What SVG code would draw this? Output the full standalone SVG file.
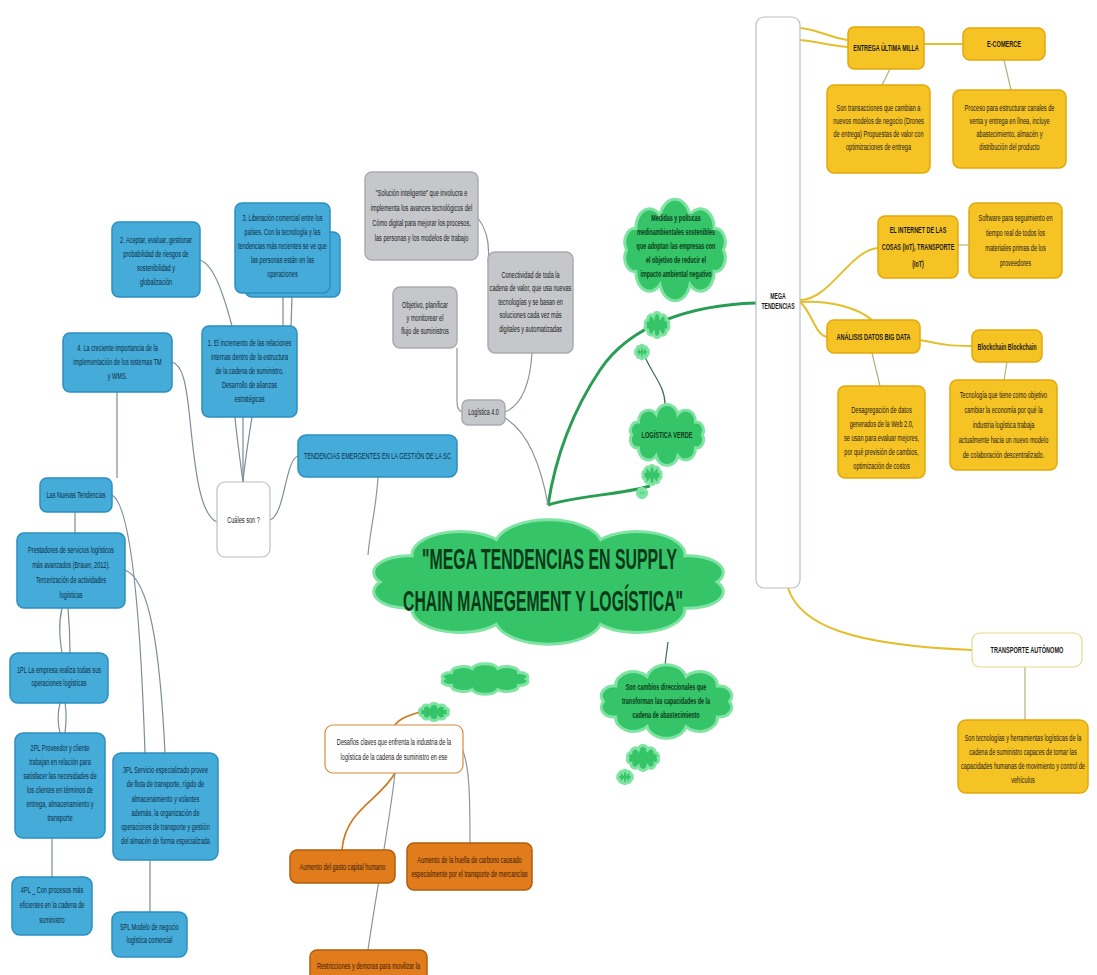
<svg xmlns="http://www.w3.org/2000/svg" xmlns:xlink="http://www.w3.org/1999/xlink" width="1097" height="975" viewBox="0 0 1097 975">
<style>
.y{fill:#f6c324;stroke:#e2a80c;stroke-width:1.5}
.b{fill:#45abd8;stroke:#2d8fc0;stroke-width:1.5}
.g{fill:#c5c7ca;stroke:#a9acb0;stroke-width:1.5}
.o{fill:#e07c1c;stroke:#b35c0a;stroke-width:1.5}
.w{fill:#ffffff;stroke:#b7c0c6;stroke-width:1.2}
.wo{fill:#ffffff;stroke:#d98a3a;stroke-width:1.2}
.wy{fill:#ffffff;stroke:#e6d98a;stroke-width:1.2}
.cl{fill:#35c468;stroke:#7fe3a2;stroke-width:3}
.tx{font-family:"Liberation Sans",Arial,sans-serif;font-size:9.3px;text-anchor:middle;fill:#1a1a1a}
.big{font-size:29px;font-weight:bold}
.bd{font-weight:bold}
.tb{fill:#0e2c44}
.to{fill:#3a1a00}
.tg{fill:#0b3a1a}
.cy{fill:none;stroke:#e4bf2c;stroke-width:2}
.cyt{fill:none;stroke:#b8b07a;stroke-width:1.2}
.cg{fill:none;stroke:#8c969c;stroke-width:1.2}
.cb{fill:none;stroke:#7b8d97;stroke-width:1.2}
.cgr{fill:none;stroke:#2a9d55;stroke-width:3}
.cgt{fill:none;stroke:#3c6e4c;stroke-width:1.2}
.co{fill:none;stroke:#d0761e;stroke-width:1.6}
</style>
<defs>
<path id="cloudShape" vector-effect="non-scaling-stroke" d="M6,30 A9,9 0 0 1 14.4,15.9 A12.5,12.5 0 0 1 36.4,7.2 A14,14 0 0 1 63.6,7.2 A12.5,12.5 0 0 1 85.6,15.9 A9,9 0 0 1 94,30 A9,9 0 0 1 85.6,44.1 A12.5,12.5 0 0 1 63.6,52.8 A14,14 0 0 1 36.4,52.8 A12.5,12.5 0 0 1 14.4,44.1 A9,9 0 0 1 6,30 Z"/>
</defs>
<rect x="0" y="0" width="1097" height="975" fill="#ffffff"/>

<g id="connectors">
<path class="cy" d="M800,28 C820,30 830,38 848,40"/>
<path class="cy" d="M800,40 C820,42 830,46 848,47"/>
<path class="cy" d="M924,44 L963,44"/>
<path class="cyt" d="M890,69 L882,85"/>
<path class="cyt" d="M1004,60 L1011,90"/>
<path class="cy" d="M800,300 C830,300 850,250 878,248"/>
<path class="cy" d="M800,302 C830,300 858,308 872,320"/>
<path class="cy" d="M800,302 C812,312 815,335 827,337"/>
<path class="cyt" d="M958,245 L969,245"/>
<path class="cy" d="M920,340 C945,345 950,346 972,346"/>
<path class="cyt" d="M872,353 L880,386"/>
<path class="cyt" d="M1007,362 L1004,380"/>
<path class="cy" d="M788,588 C800,625 850,645 972,650"/>
<path class="cyt" d="M1025,667 L1025,720"/>
<path class="cgr" d="M756,303 C690,305 630,325 600,370 S555,460 548,505"/>
<path class="cgr" d="M548,505 C580,495 620,495 650,486" stroke-width="2.5"/>
<path class="cgt" d="M643,352 C650,372 665,385 665,404"/>
<path class="cgt" d="M668,642 L665,665"/>
<path class="cg" d="M478,218 C487,230 490,245 488,262"/>
<path class="cg" d="M457,348 L457,402 C457,409 460,412 463,412"/>
<path class="cg" d="M532,353 C530,385 522,405 505,412"/>
<path class="cg" d="M505,418 C525,430 540,460 548,505"/>
<path class="cg" d="M378,477 C376,510 370,530 368,555"/>
<path class="cb" d="M270,520 C285,515 285,460 298,456"/>
<path class="cb" d="M217,522 C200,515 195,470 190,420 C186,380 182,365 172,362"/>
<path class="cb" d="M243,482 L243,417"/>
<path class="cb" d="M243,482 C245,460 250,430 252,417"/>
<path class="cb" d="M243,482 C240,460 236,430 235,417"/>
<path class="cb" d="M283,326 L283,297"/>
<path class="cb" d="M291,326 L292,297"/>
<path class="cb" d="M200,260 C215,265 225,300 232,326"/>
<path class="cb" d="M117,392 L117,478"/>
<path class="cb" d="M75,512 L75,533"/>
<path class="cb" d="M112,495 C130,505 140,600 145,753"/>
<path class="cb" d="M125,570 C150,580 160,650 165,753"/>
<path class="cb" d="M62,608 C58,625 60,640 62,653"/>
<path class="cb" d="M68,608 C70,630 70,640 70,653"/>
<path class="cb" d="M60,703 C57,715 58,725 60,733"/>
<path class="cb" d="M65,703 C67,715 66,725 65,733"/>
<path class="cb" d="M52,838 L52,877"/>
<path class="cb" d="M150,860 L150,912"/>
<path class="co" d="M395,725 C400,718 410,715 420,712"/>
<path class="co" d="M395,773 C380,800 345,810 342,850"/>
<path class="cg" d="M395,773 C390,820 375,900 368,950"/>
<path class="cg" d="M460,745 C470,760 470,800 470,843"/>
</g>

<g id="mega-tendencias">
<rect class="w" x="756" y="17" width="44" height="571" rx="8"/>
<text class="tx bd" transform="translate(778,299) scale(0.55,1)"><tspan x="0">MEGA</tspan><tspan x="0" dy="10">TENDENCIAS</tspan></text>
</g>
<g id="entrega">
<rect class="y" x="848" y="27" width="76" height="42" rx="6"/>
<text class="tx bd" transform="translate(886,51) scale(0.58,1)">ENTREGA ÚLTIMA MILLA</text>
</g>
<g id="ecommerce">
<rect class="y" x="963" y="28" width="82" height="32" rx="7"/>
<text class="tx bd" transform="translate(1004,47) scale(0.6,1)">E-COMERCE</text>
</g>
<g id="desc-entrega">
<rect class="y" x="827" y="85" width="103" height="88" rx="7"/>
<text class="tx" transform="translate(878.5,111) scale(0.6,1)"><tspan x="0">Son transacciones que cambian a</tspan><tspan x="0" dy="13">nuevos modelos de negocio (Drones</tspan><tspan x="0" dy="13">de entrega) Propuestas de valor con</tspan><tspan x="0" dy="13">optimizaciones de entrega</tspan></text>
</g>
<g id="desc-ecommerce">
<rect class="y" x="953" y="90" width="113" height="78" rx="7"/>
<text class="tx" transform="translate(1009.5,111) scale(0.6,1)"><tspan x="0">Proceso para estructurar canales de</tspan><tspan x="0" dy="13">venta y entrega en línea, incluye</tspan><tspan x="0" dy="13">abastecimiento, almacén y</tspan><tspan x="0" dy="13">distribución del producto</tspan></text>
</g>
<g id="iot">
<rect class="y" x="878" y="216" width="80" height="62" rx="7"/>
<text class="tx bd" transform="translate(918,233) scale(0.58,1)"><tspan x="0">EL INTERNET DE LAS</tspan><tspan x="0" dy="17">COSAS (IoT), TRANSPORTE</tspan><tspan x="0" dy="17">(IoT)</tspan></text>
</g>
<g id="software">
<rect class="y" x="969" y="203" width="93" height="75" rx="7"/>
<text class="tx" transform="translate(1015.5,221) scale(0.6,1)"><tspan x="0">Software para seguimiento en</tspan><tspan x="0" dy="15">tiempo real de todos los</tspan><tspan x="0" dy="15">materiales primas de los</tspan><tspan x="0" dy="15">proveedores</tspan></text>
</g>
<g id="analisis">
<rect class="y" x="827" y="320" width="93" height="33" rx="7"/>
<text class="tx bd" transform="translate(873.5,340) scale(0.6,1)">ANÁLISIS DATOS BIG DATA</text>
</g>
<g id="blockchain">
<rect class="y" x="972" y="330" width="70" height="32" rx="7"/>
<text class="tx bd" transform="translate(1007,350) scale(0.58,1)">Blockchain Blockchain</text>
</g>
<g id="desagregacion">
<rect class="y" x="838" y="386" width="87" height="92" rx="7"/>
<text class="tx" transform="translate(881.5,413) scale(0.6,1)"><tspan x="0">Desagregación de datos</tspan><tspan x="0" dy="14">generados de la Web 2.0,</tspan><tspan x="0" dy="14">se usan para evaluar mejores,</tspan><tspan x="0" dy="14">por qué previsión de cambios,</tspan><tspan x="0" dy="14">optimización de costos</tspan></text>
</g>
<g id="tecnologia">
<rect class="y" x="950" y="380" width="107" height="90" rx="7"/>
<text class="tx" transform="translate(1003.5,398) scale(0.6,1)"><tspan x="0">Tecnología que tiene como objetivo</tspan><tspan x="0" dy="15">cambiar la economía por qué la</tspan><tspan x="0" dy="15">industria logística trabaja</tspan><tspan x="0" dy="15">actualmente hacia un nuevo modelo</tspan><tspan x="0" dy="15">de colaboración descentralizado.</tspan></text>
</g>
<g id="transporte">
<rect class="wy" x="972" y="633" width="110" height="34" rx="8"/>
<text class="tx bd" transform="translate(1027,653) scale(0.6,1)">TRANSPORTE AUTÓNOMO</text>
</g>
<g id="desc-transporte">
<rect class="y" x="958" y="720" width="130" height="73" rx="8"/>
<text class="tx" transform="translate(1023,741) scale(0.6,1)"><tspan x="0">Son tecnologías y herramientas logísticas de la</tspan><tspan x="0" dy="14">cadena de suministro capaces de tomar las</tspan><tspan x="0" dy="14">capacidades humanas de movimiento y control de</tspan><tspan x="0" dy="14">vehículos</tspan></text>
</g>

<g id="solucion">
<rect class="g" x="365" y="172" width="113" height="88" rx="7"/>
<text class="tx" transform="translate(421.5,196) scale(0.6,1)"><tspan x="0">"Solución inteligente" que involucra e</tspan><tspan x="0" dy="15">implementa los avances tecnológicos del</tspan><tspan x="0" dy="15">Cómo digital para mejorar los procesos,</tspan><tspan x="0" dy="15">las personas y los modelos de trabajo</tspan></text>
</g>
<g id="objetivo">
<rect class="g" x="393" y="287" width="64" height="61" rx="7"/>
<text class="tx" transform="translate(425,308) scale(0.6,1)"><tspan x="0">Objetivo, planificar</tspan><tspan x="0" dy="13">y monitorear el</tspan><tspan x="0" dy="13">flujo de suministros</tspan></text>
</g>
<g id="conectividad">
<rect class="g" x="488" y="252" width="85" height="101" rx="7"/>
<text class="tx" transform="translate(530.5,278) scale(0.6,1)"><tspan x="0">Conectividad de toda la</tspan><tspan x="0" dy="13.5">cadena de valor, que usa nuevas</tspan><tspan x="0" dy="13.5">tecnologías y se basan en</tspan><tspan x="0" dy="13.5">soluciones cada vez más</tspan><tspan x="0" dy="13.5">digitales y automatizadas</tspan></text>
</g>
<g id="logistica40">
<rect class="g" x="462" y="400" width="43" height="25" rx="6"/>
<text class="tx" transform="translate(483.5,415) scale(0.58,1)">Logística 4.0</text>
</g>

<g id="medidas">
<use xlink:href="#cloudShape" class="cl" transform="translate(620,204.6) scale(1.1,1.514)"/>
<text class="tx bd tg" transform="translate(676,221) scale(0.58,1)"><tspan x="0">Medidas y políticas</tspan><tspan x="0" dy="14">medioambientales sostenibles</tspan><tspan x="0" dy="14">que adoptan las empresas con</tspan><tspan x="0" dy="14">el objetivo de reducir el</tspan><tspan x="0" dy="14">impacto ambiental negativo</tspan></text>
</g>
<g id="burbujas-medidas">
<use xlink:href="#cloudShape" class="cl" transform="translate(644,313.9) scale(0.26,0.371)"/>
<use xlink:href="#cloudShape" class="cl" transform="translate(635,346) scale(0.14,0.2)"/>
</g>
<g id="logistica-verde">
<use xlink:href="#cloudShape" class="cl" transform="translate(627,407.6) scale(0.8,0.914)"/>
<text class="tx bd tg" transform="translate(667,438) scale(0.6,1)">LOGÍSTICA VERDE</text>
</g>
<g id="burbujas-verde">
<use xlink:href="#cloudShape" class="cl" transform="translate(642,466.4) scale(0.2,0.286)"/>
<use xlink:href="#cloudShape" class="cl" transform="translate(637,488.7) scale(0.1,0.143)"/>
</g>
<g id="titulo">
<use xlink:href="#cloudShape" class="cl" transform="translate(357,526.3) scale(3.83,1.857)"/>
<text class="tx big tg" x="549.5" y="569" textLength="255" lengthAdjust="spacingAndGlyphs">"MEGA TENDENCIAS EN SUPPLY</text>
<text class="tx big tg" x="543" y="611" textLength="280" lengthAdjust="spacingAndGlyphs">CHAIN MANEGEMENT Y LOGÍSTICA"</text>
</g>
<g id="cambios">
<use xlink:href="#cloudShape" class="cl" transform="translate(595,668.5) scale(1.43,1.1)"/>
<text class="tx bd tg" transform="translate(666,690) scale(0.58,1)"><tspan x="0">Son cambios direccionales que</tspan><tspan x="0" dy="14">transforman las capacidades de la</tspan><tspan x="0" dy="14">cadena de abastecimiento</tspan></text>
</g>
<g id="burbujas-cambios">
<use xlink:href="#cloudShape" class="cl" transform="translate(626,746.9) scale(0.34,0.371)"/>
<use xlink:href="#cloudShape" class="cl" transform="translate(617,771) scale(0.16,0.2)"/>
</g>
<g id="burbujas-desafios">
<use xlink:href="#cloudShape" class="cl" transform="translate(438,665.3) scale(0.94,0.457)"/>
<use xlink:href="#cloudShape" class="cl" transform="translate(418,704.3) scale(0.32,0.257)"/>
</g>

<g id="liberacion">
<rect class="b" x="245" y="232" width="95" height="65" rx="7"/>
<rect class="b" x="235" y="203" width="95" height="90" rx="7"/>
<text class="tx tb" transform="translate(282.5,221) scale(0.6,1)"><tspan x="0">3. Liberación comercial entre los</tspan><tspan x="0" dy="14">países. Con la tecnología y las</tspan><tspan x="0" dy="14">tendencias más recientes se ve que</tspan><tspan x="0" dy="14">las personas están en las</tspan><tspan x="0" dy="14">operaciones</tspan></text>
</g>
<g id="aceptar">
<rect class="b" x="112" y="222" width="88" height="75" rx="7"/>
<text class="tx tb" transform="translate(156,243) scale(0.6,1)"><tspan x="0">2. Aceptar, evaluar, gestionar</tspan><tspan x="0" dy="14">probabilidad de riesgos de</tspan><tspan x="0" dy="14">sostenibilidad y</tspan><tspan x="0" dy="14">globalización</tspan></text>
</g>
<g id="incremento">
<rect class="b" x="202" y="326" width="95" height="91" rx="7"/>
<text class="tx tb" transform="translate(249.5,346) scale(0.6,1)"><tspan x="0">1. El incremento de las relaciones</tspan><tspan x="0" dy="14">internas dentro de la estructura</tspan><tspan x="0" dy="14">de la cadena de suministro.</tspan><tspan x="0" dy="14">Desarrollo de alianzas</tspan><tspan x="0" dy="14">estratégicas</tspan></text>
</g>
<g id="creciente">
<rect class="b" x="63" y="333" width="109" height="59" rx="7"/>
<text class="tx tb" transform="translate(117.5,351) scale(0.6,1)"><tspan x="0">4. La creciente importancia de la</tspan><tspan x="0" dy="14">implementación de los sistemas TM</tspan><tspan x="0" dy="14">y WMS.</tspan></text>
</g>
<g id="cuales">
<rect class="w" x="217" y="482" width="53" height="75" rx="8"/>
<text class="tx" transform="translate(243.5,523) scale(0.6,1)">Cuáles son ?</text>
</g>
<g id="emergentes">
<rect class="b" x="298" y="435" width="159" height="42" rx="8"/>
<text class="tx tb" transform="translate(377.5,459) scale(0.6,1)">TENDENCIAS EMERGENTES EN LA GESTIÓN DE LA SC</text>
</g>
<g id="nuevas">
<rect class="b" x="40" y="478" width="72" height="34" rx="7"/>
<text class="tx tb" transform="translate(76,498) scale(0.6,1)">Las Nuevas Tendencias</text>
</g>
<g id="prestadores">
<rect class="b" x="17" y="533" width="108" height="75" rx="7"/>
<text class="tx tb" transform="translate(71,553) scale(0.6,1)"><tspan x="0">Prestadores de servicios logísticos</tspan><tspan x="0" dy="15">más avanzados (Brauer, 2012).</tspan><tspan x="0" dy="15">Tercerización de actividades</tspan><tspan x="0" dy="15">logísticas</tspan></text>
</g>
<g id="pl1">
<rect class="b" x="10" y="653" width="98" height="50" rx="8"/>
<text class="tx tb" transform="translate(59,673) scale(0.6,1)"><tspan x="0">1PL La empresa realiza todas sus</tspan><tspan x="0" dy="13">operaciones logísticas</tspan></text>
</g>
<g id="pl2">
<rect class="b" x="15" y="733" width="90" height="105" rx="8"/>
<text class="tx tb" transform="translate(60,751) scale(0.6,1)"><tspan x="0">2PL Proveedor y cliente</tspan><tspan x="0" dy="14">trabajan en relación para</tspan><tspan x="0" dy="14">satisfacer las necesidades de</tspan><tspan x="0" dy="14">los clientes en términos de</tspan><tspan x="0" dy="14">entrega, almacenamiento y</tspan><tspan x="0" dy="14">transporte</tspan></text>
</g>
<g id="pl3">
<rect class="b" x="113" y="753" width="105" height="107" rx="8"/>
<text class="tx tb" transform="translate(165.5,773) scale(0.6,1)"><tspan x="0">3PL Servicio especializado provee</tspan><tspan x="0" dy="14.3">de flota de transporte, rígido de</tspan><tspan x="0" dy="14.3">almacenamiento y volantes</tspan><tspan x="0" dy="14.3">además, la organización de</tspan><tspan x="0" dy="14.3">operaciones de transporte y gestión</tspan><tspan x="0" dy="14.3">del almacén de forma especializada</tspan></text>
</g>
<g id="pl4">
<rect class="b" x="12" y="877" width="80" height="58" rx="8"/>
<text class="tx tb" transform="translate(52,893) scale(0.6,1)"><tspan x="0">4PL _ Con procesos más</tspan><tspan x="0" dy="15">eficientes en la cadena de</tspan><tspan x="0" dy="15">suministro</tspan></text>
</g>
<g id="pl5">
<rect class="b" x="112" y="912" width="75" height="45" rx="8"/>
<text class="tx tb" transform="translate(149.5,930) scale(0.6,1)"><tspan x="0">5PL Modelo de negocio</tspan><tspan x="0" dy="13">logística comercial</tspan></text>
</g>

<g id="desafios">
<rect class="wo" x="325" y="725" width="138" height="48" rx="8"/>
<text class="tx" transform="translate(394,745) scale(0.6,1)"><tspan x="0">Desafíos claves que enfrenta la industria de la</tspan><tspan x="0" dy="15">logística de la cadena de suministro en ese</tspan></text>
</g>
<g id="gasto">
<rect class="o" x="290" y="850" width="105" height="33" rx="7"/>
<text class="tx to" transform="translate(342.5,869.5) scale(0.6,1)">Aumento del gasto capital humano</text>
</g>
<g id="huella">
<rect class="o" x="407" y="843" width="125" height="47" rx="7"/>
<text class="tx to" transform="translate(469.5,863) scale(0.6,1)"><tspan x="0">Aumento de la huella de carbono causado</tspan><tspan x="0" dy="14">especialmente por el transporte de mercancías</tspan></text>
</g>
<g id="restricciones">
<rect class="o" x="310" y="950" width="117" height="34" rx="7"/>
<text class="tx to" transform="translate(368.5,969) scale(0.6,1)">Restricciones y demoras para movilizar la</text>
</g>
</svg>
